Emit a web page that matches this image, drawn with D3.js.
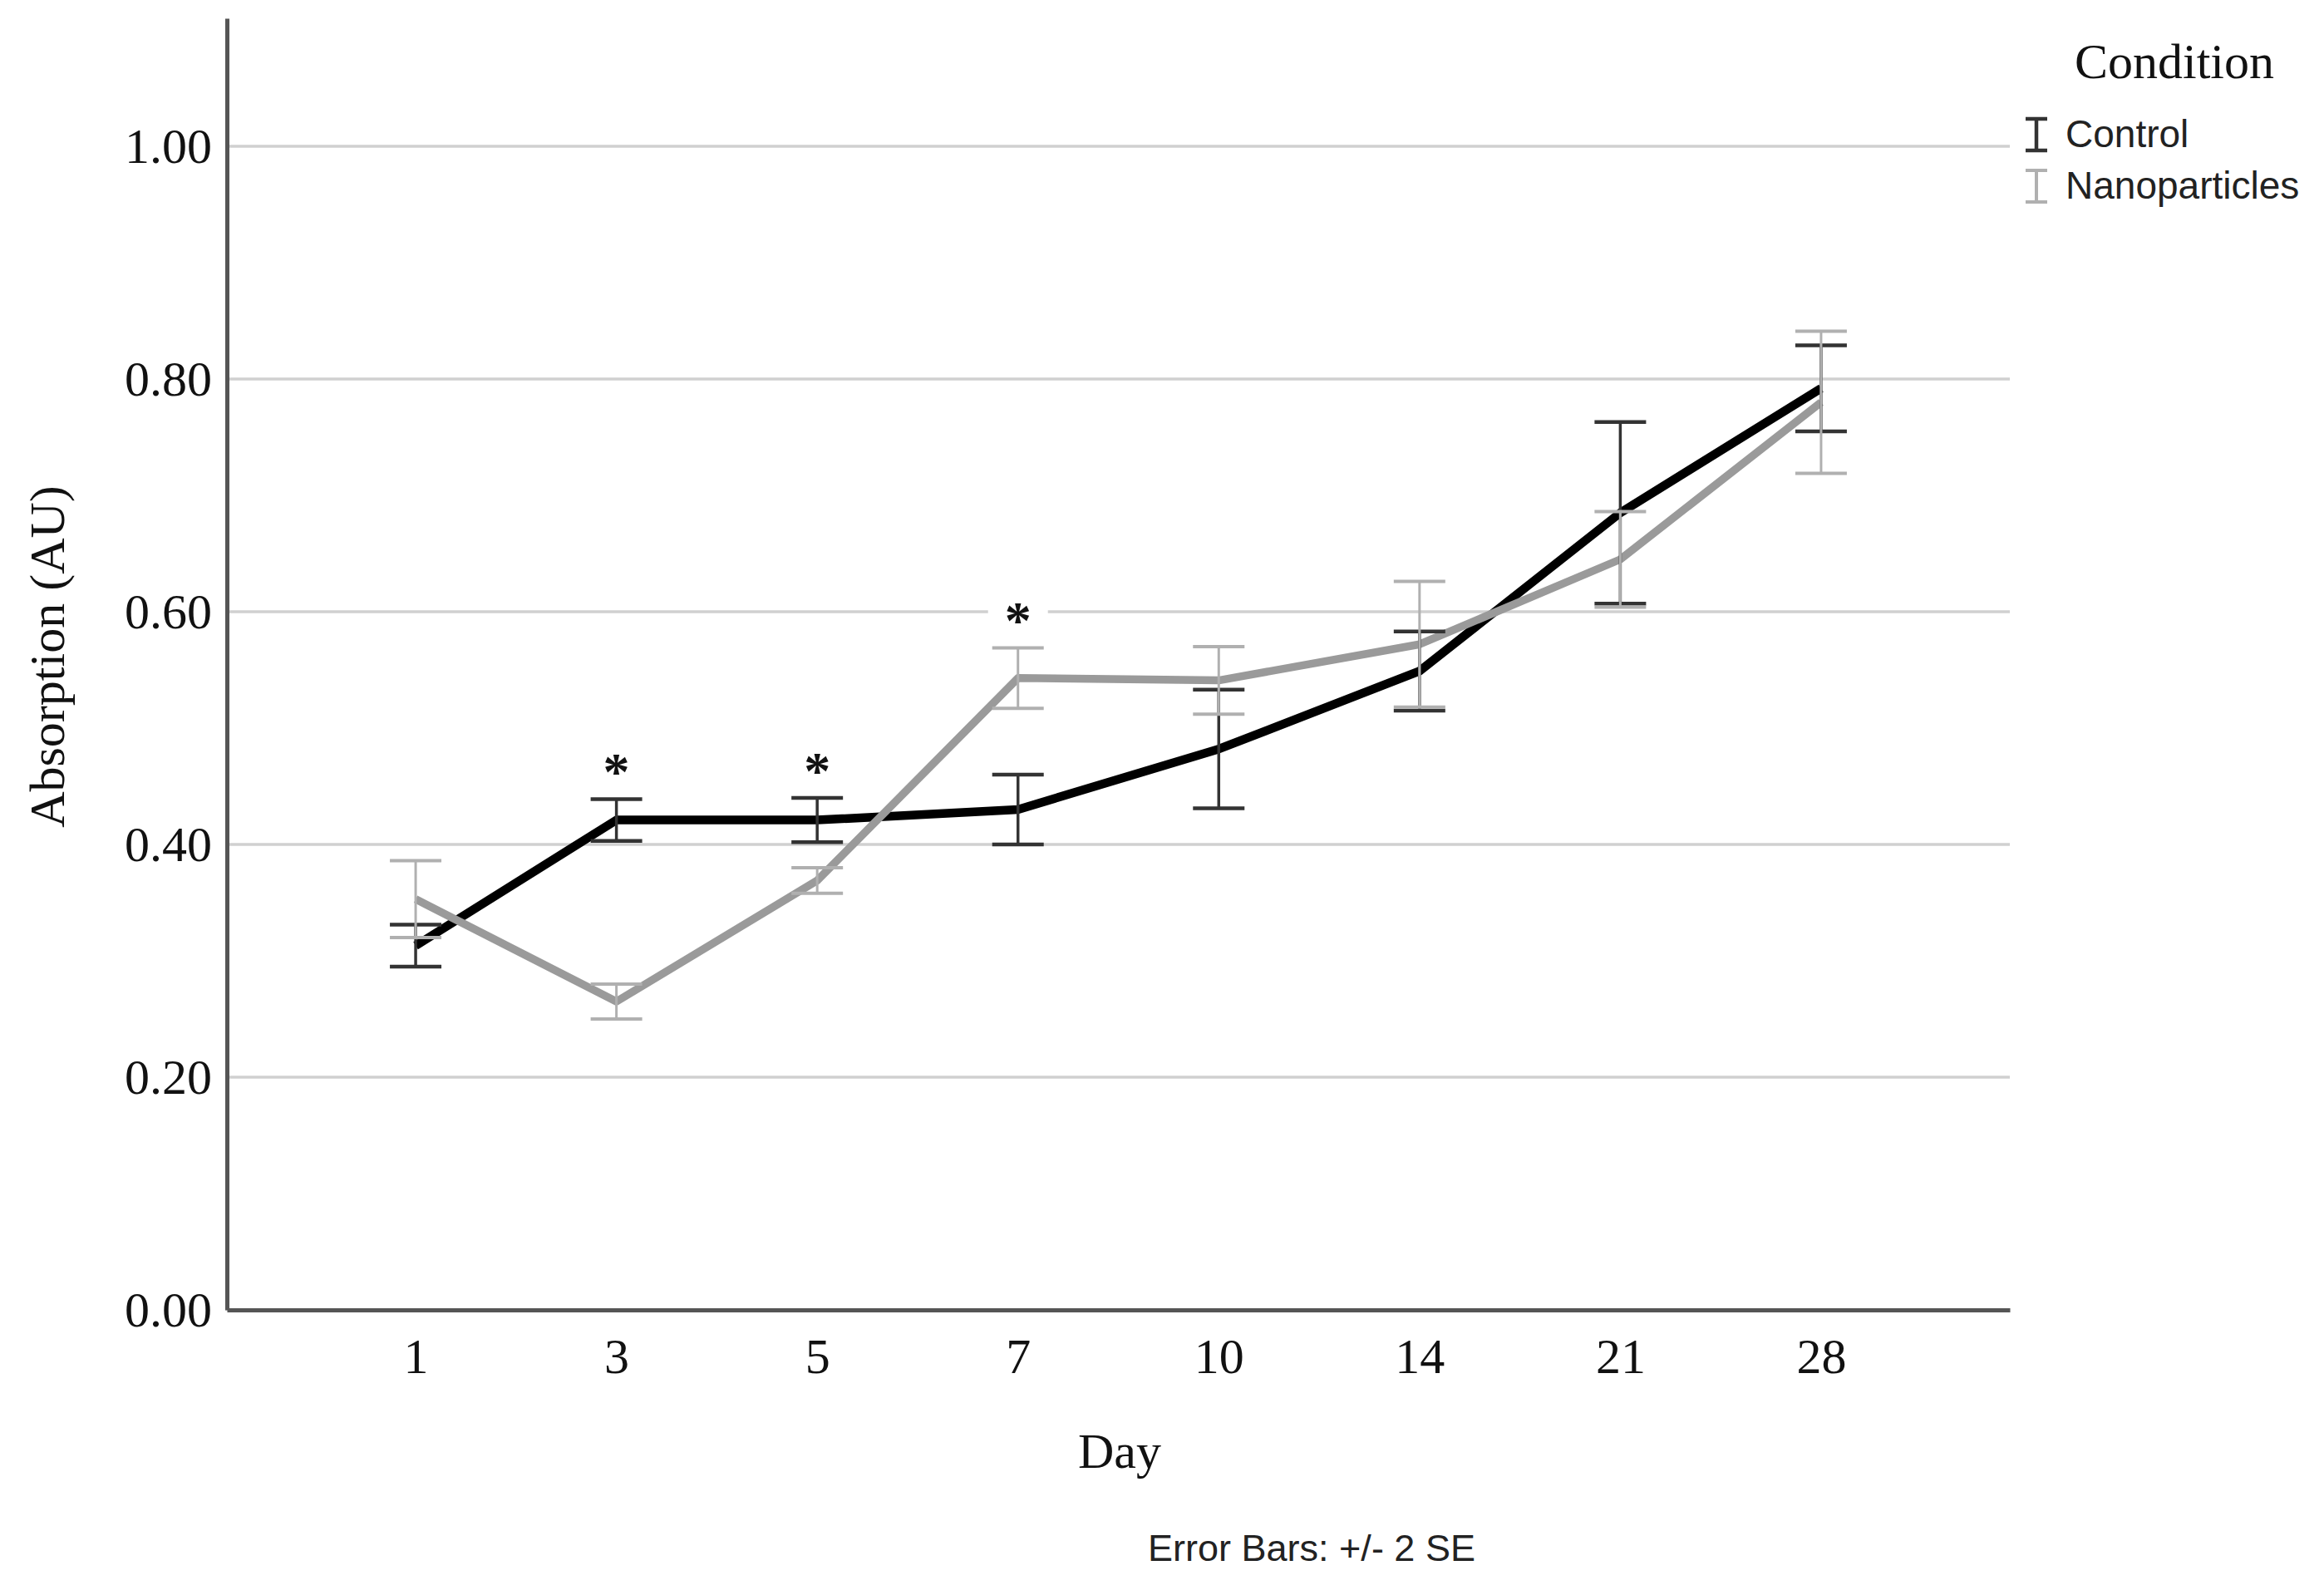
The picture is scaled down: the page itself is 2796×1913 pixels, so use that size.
<!DOCTYPE html>
<html>
<head>
<meta charset="utf-8">
<script src="https://cdn.jsdelivr.net/npm/d3@7"></script>
<style>
  body { margin: 0; background: #fff; }
</style>
</head>
<body>
<div id="chart"></div>
<script>
const days = ["1", "3", "5", "7", "10", "14", "21", "28"]
const controlMean = [0.313, 0.421, 0.421, 0.430, 0.482, 0.549, 0.685, 0.792]
const controlErr = [0.018, 0.018, 0.019, 0.030, 0.051, 0.034, 0.078, 0.037]
const nanoMean = [0.353, 0.265, 0.369, 0.543, 0.541, 0.572, 0.645, 0.780]
const nanoErr = [0.033, 0.015, 0.011, 0.026, 0.029, 0.054, 0.041, 0.061]
const yTicks = [0, 0.2, 0.4, 0.6, 0.8, 1.0]
const sigDays = ["3", "5", "7"]
const seriesNames = ["Control", "Nanoparticles"]

const width = 2796
const height = 1913
const serif = "'Liberation Serif', 'Times New Roman', serif"
const sans = "'Liberation Sans', Arial, sans-serif"

const svg = d3.select("#chart").append("svg")
  .attr("width", width)
  .attr("height", height)

const plotLeft = 273, plotRight = 2418, plotTop = 22, plotBottom = 1576

const xScale = d3.scalePoint()
  .domain(days)
  .range([plotLeft, plotRight])
  .padding(0.94)

const yScale = d3.scaleLinear()
  .domain([0, 1.11])
  .range([plotBottom, plotTop])

const series = [
  {name: seriesNames[0], mean: controlMean, err: controlErr, line: "#000000", lw: 10.5, bar: "#333333", bw: 3.5, cw: 4.5},
  {name: seriesNames[1], mean: nanoMean, err: nanoErr, line: "#9a9a9a", lw: 9.5, bar: "#b0b0b0", bw: 3, cw: 4}
]

// gridlines
svg.append("g")
  .selectAll("line")
  .data(yTicks.filter(d => d > 0))
  .enter()
  .append("line")
    .attr("x1", plotLeft)
    .attr("x2", plotRight)
    .attr("y1", d => yScale(d))
    .attr("y2", d => yScale(d))
    .attr("stroke", "#d0d0d0")
    .attr("stroke-width", 3.5)

// significance asterisks with white background
const sig = svg.append("g")
sigDays.forEach(function(day) {
  const i = days.indexOf(day)
  const topVal = Math.max(controlMean[i] + controlErr[i], nanoMean[i] + nanoErr[i])
  const cy = yScale(topVal + 0.03)
  sig.append("rect")
    .attr("x", xScale(day) - 36)
    .attr("y", cy - 22)
    .attr("width", 72)
    .attr("height", 44)
    .attr("fill", "#fff")
  sig.append("text")
    .attr("x", xScale(day))
    .attr("y", cy + 31)
    .attr("text-anchor", "middle")
    .attr("font-family", serif)
    .attr("font-size", 64)
    .attr("font-weight", "bold")
    .attr("fill", "#111")
    .text("*")
})

const line = d3.line()
  .x(d => xScale(d.day))
  .y(d => yScale(d.v))

series.forEach(function(s) {
  const pts = days.map((d, i) => ({day: d, v: s.mean[i], e: s.err[i]}))
  svg.append("path")
    .datum(pts)
    .attr("fill", "none")
    .attr("stroke", s.line)
    .attr("stroke-width", s.lw)
    .attr("stroke-linejoin", "round")
    .attr("d", line)
})

series.forEach(function(s) {
  const pts = days.map((d, i) => ({day: d, v: s.mean[i], e: s.err[i]}))
  const g = svg.append("g")
  g.selectAll(".stem")
    .data(pts)
    .enter()
    .append("line")
      .attr("x1", d => xScale(d.day))
      .attr("x2", d => xScale(d.day))
      .attr("y1", d => yScale(d.v + d.e))
      .attr("y2", d => yScale(d.v - d.e))
      .attr("stroke", s.bar)
      .attr("stroke-width", s.bw)
  g.selectAll(".cap")
    .data(pts.flatMap(d => [d.v + d.e, d.v - d.e].map(v => ({day: d.day, v: v}))))
    .enter()
    .append("line")
      .attr("x1", d => xScale(d.day) - 31)
      .attr("x2", d => xScale(d.day) + 31)
      .attr("y1", d => yScale(d.v))
      .attr("y2", d => yScale(d.v))
      .attr("stroke", s.bar)
      .attr("stroke-width", s.cw)
})

// axes
const yAxis = svg.append("g")
  .attr("transform", `translate(${plotLeft},0)`)
  .call(d3.axisLeft(yScale).tickValues(yTicks).tickFormat(d3.format(".2f")).tickSize(0).tickPadding(18))
yAxis.select(".domain").attr("stroke", "#555").attr("stroke-width", 5)
yAxis.selectAll("text")
  .attr("font-family", serif)
  .attr("font-size", 60)
  .attr("fill", "#111")

const xAxis = svg.append("g")
  .attr("transform", `translate(0,${plotBottom})`)
  .call(d3.axisBottom(xScale).tickSize(0).tickPadding(33))
xAxis.select(".domain").attr("stroke", "#555").attr("stroke-width", 5)
xAxis.selectAll("text")
  .attr("font-family", serif)
  .attr("font-size", 60)
  .attr("fill", "#111")

svg.append("text")
  .attr("transform", "translate(77,790) rotate(-90)")
  .attr("text-anchor", "middle")
  .attr("font-family", serif)
  .attr("font-size", 60)
  .attr("fill", "#111")
  .text("Absorption (AU)")

svg.append("text")
  .attr("x", 1347)
  .attr("y", 1766)
  .attr("text-anchor", "middle")
  .attr("font-family", serif)
  .attr("font-size", 60)
  .attr("fill", "#111")
  .text("Day")

svg.append("text")
  .attr("x", 1578)
  .attr("y", 1878)
  .attr("text-anchor", "middle")
  .attr("font-family", sans)
  .attr("font-size", 45)
  .attr("fill", "#222")
  .text("Error Bars: +/- 2 SE")

// legend
svg.append("text")
  .attr("x", 2616)
  .attr("y", 94)
  .attr("text-anchor", "middle")
  .attr("font-family", serif)
  .attr("font-size", 60)
  .attr("fill", "#111")
  .text("Condition")

const legend = svg.append("g")
  .selectAll("g")
  .data(series)
  .enter()
  .append("g")
    .attr("transform", (d, i) => `translate(2450,${162 + i * 62})`)

legend.append("path")
  .attr("d", "M-13,-19H13M0,-19V19M-13,19H13")
  .attr("fill", "none")
  .attr("stroke", d => d.bar)
  .attr("stroke-width", d => d.cw)

legend.append("text")
  .attr("x", 35)
  .attr("y", 15)
  .attr("font-family", sans)
  .attr("font-size", 46)
  .attr("fill", "#222")
  .text(d => d.name)
</script>
</body>
</html>
